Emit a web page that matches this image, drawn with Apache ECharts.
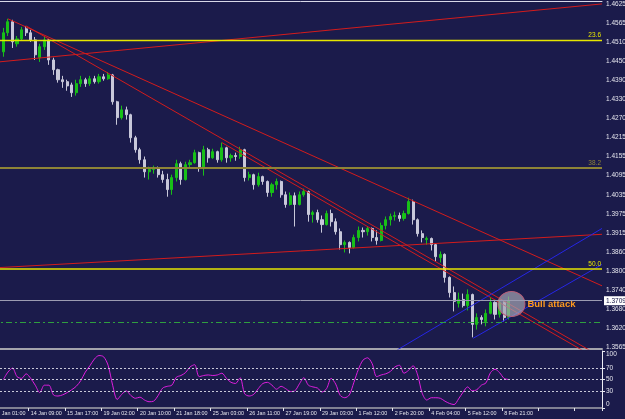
<!DOCTYPE html>
<html><head><meta charset="utf-8">
<script src="https://cdn.jsdelivr.net/npm/echarts@6/dist/echarts.min.js"></script>
<style>html,body{margin:0;padding:0;background:#1b1b4b;}#c{width:625px;height:419px;}</style>
</head><body><div id="c"></div>
<script>
// ---- data (4-hour slots, first candle in slot 2) ----
const opens = [1.4477,1.4536,1.4570,1.4502,1.4517,1.4548,1.4536,1.4514,1.4459,1.4493,1.4514,1.4452,1.4422,1.4391,1.4385,1.4375,1.4351,1.4379,1.4391,1.4379,1.4394,1.4385,1.4400,1.4394,1.4406,1.4323,1.4274,1.4298,1.4283,1.4212,1.4175,1.4144,1.4107,1.4114,1.4120,1.4098,1.4083,1.4052,1.4089,1.4132,1.4083,1.4129,1.4135,1.4166,1.4120,1.4175,1.4150,1.4169,1.4144,1.4181,1.4150,1.4157,1.4154,1.4175,1.4089,1.4098,1.4067,1.4092,1.4077,1.4043,1.4067,1.4077,1.4036,1.4006,1.4033,1.4006,1.4036,1.4046,1.3975,1.3981,1.3959,1.3944,1.3978,1.3953,1.3922,1.3882,1.3889,1.3873,1.3904,1.3926,1.3922,1.3932,1.3904,1.3895,1.3941,1.3959,1.3969,1.3972,1.3963,1.3978,1.4015,1.3959,1.3916,1.3898,1.3901,1.3882,1.3842,1.3852,1.3781,1.3734,1.3701,1.3713,1.3694,1.3728,1.3636,1.3657,1.3645,1.3670,1.3704,1.3667,1.3704,1.3657];
const closes = [1.4536,1.4570,1.4508,1.4517,1.4545,1.4536,1.4514,1.4468,1.4493,1.4514,1.4452,1.4422,1.4391,1.4385,1.4372,1.4351,1.4379,1.4391,1.4379,1.4394,1.4385,1.4400,1.4394,1.4406,1.4323,1.4274,1.4298,1.4283,1.4212,1.4175,1.4144,1.4107,1.4114,1.4120,1.4098,1.4083,1.4052,1.4089,1.4132,1.4083,1.4129,1.4135,1.4166,1.4120,1.4175,1.4150,1.4169,1.4144,1.4181,1.4150,1.4157,1.4154,1.4175,1.4089,1.4098,1.4067,1.4092,1.4077,1.4043,1.4067,1.4077,1.4036,1.4006,1.4033,1.4006,1.4036,1.4046,1.3975,1.3981,1.3959,1.3944,1.3978,1.3953,1.3922,1.3882,1.3889,1.3873,1.3904,1.3926,1.3922,1.3932,1.3904,1.3895,1.3941,1.3959,1.3969,1.3972,1.3963,1.3978,1.4015,1.3959,1.3916,1.3904,1.3901,1.3882,1.3845,1.3852,1.3781,1.3734,1.3707,1.3713,1.3694,1.3728,1.3636,1.3657,1.3651,1.3670,1.3704,1.3667,1.3704,1.3657,1.3709];
const lows = [1.4462,1.4526,1.4489,1.4493,1.4511,1.4526,1.4508,1.4452,1.4446,1.4483,1.4437,1.4406,1.4382,1.4366,1.4357,1.4338,1.4342,1.4369,1.4369,1.4372,1.4379,1.4379,1.4388,1.4391,1.4314,1.4252,1.4268,1.4268,1.4197,1.4166,1.4132,1.4089,1.4083,1.4101,1.4089,1.4073,1.4030,1.4036,1.4077,1.4067,1.4080,1.4120,1.4132,1.4107,1.4095,1.4135,1.4147,1.4135,1.4138,1.4135,1.4138,1.4141,1.4147,1.4077,1.4080,1.4052,1.4061,1.4067,1.4030,1.4030,1.4052,1.4027,1.3996,1.4003,1.3938,1.4003,1.4030,1.3953,1.3950,1.3950,1.3919,1.3941,1.3938,1.3913,1.3867,1.3858,1.3855,1.3870,1.3892,1.3904,1.3910,1.3892,1.3882,1.3892,1.3929,1.3941,1.3956,1.3953,1.3956,1.3975,1.3944,1.3907,1.3889,1.3882,1.3864,1.3830,1.3827,1.3765,1.3719,1.3676,1.3688,1.3688,1.3679,1.3596,1.3620,1.3636,1.3630,1.3667,1.3651,1.3657,1.3645,1.3651];
const highs = [1.4551,1.4579,1.4576,1.4526,1.4554,1.4557,1.4545,1.4523,1.4502,1.4523,1.4517,1.4459,1.4425,1.4403,1.4391,1.4382,1.4391,1.4403,1.4397,1.4403,1.4403,1.4409,1.4409,1.4415,1.4409,1.4326,1.4311,1.4308,1.4286,1.4218,1.4181,1.4154,1.4123,1.4126,1.4123,1.4110,1.4101,1.4098,1.4144,1.4138,1.4138,1.4144,1.4175,1.4169,1.4187,1.4181,1.4178,1.4172,1.4197,1.4184,1.4163,1.4166,1.4184,1.4178,1.4107,1.4101,1.4104,1.4095,1.4080,1.4073,1.4086,1.4080,1.4046,1.4043,1.4043,1.4046,1.4055,1.4049,1.3987,1.3990,1.3972,1.3987,1.3990,1.3963,1.3932,1.3895,1.3892,1.3913,1.3938,1.3935,1.3938,1.3935,1.3926,1.3950,1.3969,1.3978,1.3984,1.3981,1.3987,1.4027,1.4021,1.3963,1.3926,1.3907,1.3904,1.3885,1.3861,1.3855,1.3784,1.3753,1.3734,1.3731,1.3744,1.3731,1.3670,1.3664,1.3682,1.3719,1.3707,1.3713,1.3707,1.3722];
const rsi = [50,63,70,55,52,60,52,40,27,40,40,23,21,23,27,32,38,48,63,74,86,92,90,75,40,15,24,30,22,17,19,14,11,12,22,35,38,40,54,57,62,72,76,55,57,58,57,58,61,52,45,43,53,25,21,24,34,43,45,40,33,38,34,29,30,42,53,40,37,35,28,34,52,42,22,18,23,45,68,84,88,78,55,58,60,64,72,75,61,66,74,58,26,14,18,18,17,12,8,6,16,28,37,30,32,40,44,62,68,62,52,50];

const xTickLabels = ['13 Jan 01:00','14 Jan 09:00','15 Jan 17:00','19 Jan 02:00','20 Jan 10:00','21 Jan 18:00','25 Jan 03:00','26 Jan 11:00','27 Jan 19:00','29 Jan 03:00','1 Feb 12:00','2 Feb 20:00','4 Feb 04:00','5 Feb 12:00','8 Feb 21:00'];
const yTickLabels = ['1.3565','1.3620','1.3680','1.3740','1.3800','1.3860','1.3915','1.3975','1.4035','1.4095','1.4155','1.4215','1.4270','1.4330','1.4390','1.4450','1.4510','1.4565','1.4625'];
const rsiTicks = [0,30,50,70,100];
const rsiLevels = [70,50,30];

const fibLevels = [
  {name:'23.6', value:1.4514, color:'#e6e600', width:1.3},
  {name:'38.2', value:1.4120, color:'#8e8436', width:2.2},
  {name:'50.0', value:1.3808, color:'#e6e600', width:1.6}
];
const bidPrice = 1.3709;
const supportPrice = 1.3642;
// trend lines: [slot, price] anchor pairs
const trendLines = [
  {color:'#d41c1c', pts:[[-0.5,1.4444],[133.5,1.4625]]},
  {color:'#d41c1c', pts:[[-0.5,1.3810],[133.5,1.3914]]},
  {color:'#d41c1c', pts:[[3,1.4579],[133.5,1.3755]]},
  {color:'#d41c1c', pts:[[7,1.4557],[133.5,1.3534]]},
  {color:'#d41c1c', pts:[[50,1.4197],[133.5,1.3521]]},
  {color:'#2626e6', pts:[[88.5,1.3557],[133.5,1.3932]]},
  {color:'#2626e6', pts:[[105.2,1.3593],[133.5,1.3821]]}
];
const annotation = {text:'Bull attack', slot:113.6, price:1.3699};

// ---- layout constants ----
const FIRST_SLOT = 2, SLOT_COUNT = 134, LABEL_STEP = 8;
const priceMin = 1.3560, priceMax = 1.4634;

const categories = Array.from({length:SLOT_COUNT}, (_, i) => String(i));
const candleData = categories.map((_, i) => {
  const j = i - FIRST_SLOT;
  return (j >= 0 && j < opens.length) ? [opens[j], closes[j], lows[j], highs[j]] : '-';
});
const rsiData = categories.map((_, i) => {
  const j = i - FIRST_SLOT;
  return (j >= 0 && j < rsi.length) ? rsi[j] : '-';
});
const yLo = parseFloat(yTickLabels[0]), yHi = parseFloat(yTickLabels[yTickLabels.length-1]);
const yStep = (yHi - yLo) / (yTickLabels.length - 1);
const yTickValues = yTickLabels.map((_, k) => yLo + k * yStep);

const narrow = "'Liberation Sans Narrow', 'Liberation Sans', sans-serif";
const axisFont = {fontFamily:narrow, fontSize:6.5, color:'#e6e6ee'};
const chart = echarts.init(document.getElementById('c'));

const series = [
  {
    type:'candlestick', xAxisIndex:0, yAxisIndex:0, data:candleData, barWidth:2.6,
    itemStyle:{color:'#18c018', color0:'#c8c8da', borderColor:'#18c018', borderColor0:'#c8c8da', borderWidth:1},
    markLine:{
      silent:true, symbol:['none','none'], animation:false, precision:4,
      data:[
        ...fibLevels.map(f => ({yAxis:f.value, lineStyle:{color:f.color, width:f.width, type:'solid'},
          label:{show:true, position:'insideEndTop', formatter:f.name, color:f.color, fontSize:6.5, fontFamily:narrow, distance:1}})),
        {yAxis:supportPrice, lineStyle:{color:'#2f9f3f', width:1, type:[6,3,2,3]}, label:{show:false}},
        {yAxis:bidPrice, lineStyle:{color:'#9c9cb2', width:1, type:'solid'},
          label:{show:true, position:'end', formatter:bidPrice.toFixed(4), backgroundColor:'#ffffff', color:'#101040',
            padding:[1,2,1,2], fontSize:6.5, fontFamily:narrow, distance:2}}
      ]
    }
  },
  ...trendLines.map(t => ({
    type:'line', xAxisIndex:1, yAxisIndex:0, data:t.pts, symbol:'none', silent:true, clip:true,
    lineStyle:{color:t.color, width:1}, z:3
  })),
  {
    type:'scatter', xAxisIndex:1, yAxisIndex:0, data:[[annotation.slot, annotation.price]],
    symbol:'circle', symbolSize:[27,25], silent:true, z:4,
    itemStyle:{color:'rgba(165,165,180,0.7)', borderColor:'#b8607a', borderWidth:1, opacity:1},
    label:{show:true, position:'right', distance:2, formatter:annotation.text, color:'#ff9a1e', opacity:1,
      textBorderWidth:0, textShadowBlur:0, fontWeight:'bold', fontSize:9.5, fontFamily:'Liberation Sans'}
  },
  {
    type:'line', xAxisIndex:2, yAxisIndex:1, data:rsiData, symbol:'none', smooth:0.3, silent:true,
    lineStyle:{color:'#e01ee0', width:1},
    markLine:{silent:true, symbol:['none','none'], animation:false, label:{show:false},
      lineStyle:{color:'#c8c8d8', width:1, type:[2,2]},
      data: rsiLevels.map(v => ({yAxis:v}))}
  }
];

chart.setOption({
  backgroundColor:'#1b1b4b',
  animation:false,
  grid:[
    {left:-8, right:23, top:1, height:348, outerBoundsMode:'none'},
    {left:-8, right:23, top:351, height:57, outerBoundsMode:'none'}
  ],
  xAxis:[
    {type:'category', gridIndex:0, data:categories, boundaryGap:true,
      axisLine:{show:true, lineStyle:{color:'#a4a4ac', width:2}}, axisTick:{show:false}, axisLabel:{show:false}, splitLine:{show:false}},
    {type:'value', gridIndex:0, position:'top', min:-0.5, max:SLOT_COUNT-0.5,
      axisLine:{show:true, onZero:false, lineStyle:{color:'#d8d8e8', width:1}}, axisTick:{show:false}, axisLabel:{show:false}, splitLine:{show:false}},
    {type:'category', gridIndex:1, data:categories, boundaryGap:true,
      axisLine:{show:true, lineStyle:{color:'#a4a4ac', width:1.5}},
      axisTick:{show:true, interval:(i) => i % LABEL_STEP === 0, length:3, lineStyle:{color:'#e6e6ee'}},
      axisLabel:{interval:(i) => i % LABEL_STEP === 0, formatter:(v, i) => xTickLabels[i / LABEL_STEP] || '', align:'left', margin:3, ...axisFont, fontSize:5.4},
      splitLine:{show:false}}
  ],
  yAxis:[
    {type:'value', gridIndex:0, position:'right', min:priceMin, max:priceMax, scale:true,
      axisLine:{show:true, lineStyle:{color:'#ececf4'}},
      axisTick:{show:true, customValues:yTickValues, length:3, lineStyle:{color:'#ececf4'}},
      axisLabel:{customValues:yTickValues, formatter:(v) => yTickLabels[Math.round((v - yLo) / yStep)] || '', margin:4, ...axisFont},
      splitLine:{show:false}},
    {type:'value', gridIndex:1, position:'right', min:0, max:100,
      axisLine:{show:true, lineStyle:{color:'#ececf4'}},
      axisTick:{show:true, customValues:rsiTicks, length:3, lineStyle:{color:'#ececf4'}},
      axisLabel:{customValues:rsiTicks, margin:4, verticalAlignMinLabel:'bottom', verticalAlignMaxLabel:'top', ...axisFont},
      splitLine:{show:false}}
  ],
  series
});
</script></body></html>
